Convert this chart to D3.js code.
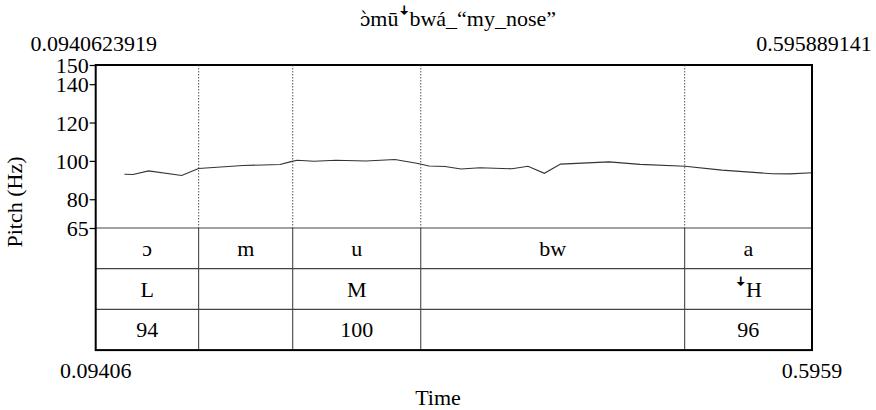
<!DOCTYPE html>
<html>
<head>
<meta charset="utf-8">
<script src="https://cdn.jsdelivr.net/npm/d3@7"></script>
<style>
	body { margin: 0; background: #fff; }
	text { font-family: "Liberation Serif", "Times New Roman", serif; fill: #000; }
</style>
</head>
<body>
<div id="chart"></div>
<script>

// pitch track (seconds, Hz)
var pitchTimes = [0.1142, 0.1202, 0.1311, 0.1543, 0.1661, 0.1973, 0.2232, 0.2309, 0.2351, 0.2470,
	0.2624, 0.2834, 0.3037, 0.3199, 0.3276, 0.3388, 0.3500, 0.3633, 0.3857, 0.3969,
	0.4084, 0.4197, 0.4537, 0.4754, 0.5069, 0.5328, 0.5679, 0.5805, 0.5959];
var pitchValues = [93.0, 92.9, 94.8, 92.4, 96.0, 97.6, 98.1, 99.6, 100.3, 99.8,
	100.3, 99.9, 100.7, 98.6, 97.3, 97.1, 95.8, 96.4, 95.9, 97.2,
	93.5, 98.3, 99.5, 98.2, 97.2, 95.2, 93.3, 93.2, 93.8];

// textgrid interval boundaries and tiers
var startTime = 0.0940623919,
	endTime = 0.595889141;
var boundaries = [0.1662, 0.2321, 0.3218, 0.5067];
var segmentTier = ["ɔ", "m", "u", "bw", "a"];
var toneTier = ["L", "", "M", "", "ꜜH"];
var hzTier = ["94", "", "100", "", "96"];
var yTicks = [65, 80, 100, 120, 140, 150];

var titleHead = "ɔ̀",
	titleRest = "mūꜜbwá_“my_nose”";

var drawChart = function() {

	var width = 876, height = 410;
	var left = 95.7, right = 812, plotTop = 65, pitchBottom = 228, rowH = 40.7;
	var fontSize = 22;

	var svg = d3.select("#chart").append("svg")
		.attr("width", width)
		.attr("height", height);

	var x = d3.scaleLinear().domain([startTime, endTime]).range([left, right]);
	var y = d3.scaleLinear().domain([65, 150]).range([pitchBottom, plotTop]);

	var tiers = [segmentTier, toneTier, hzTier];
	var frameBottom = pitchBottom + rowH * tiers.length;

	// dotted boundary lines over the pitch area
	svg.selectAll("line.bnd-dot")
		.data(boundaries)
		.enter().append("line")
		.attr("x1", function(d) { return x(d); })
		.attr("x2", function(d) { return x(d); })
		.attr("y1", plotTop)
		.attr("y2", pitchBottom)
		.attr("stroke", "#555")
		.attr("stroke-width", 1)
		.attr("stroke-dasharray", "1.5,1.5");

	// solid boundary lines in the tiers
	svg.selectAll("line.bnd")
		.data(boundaries)
		.enter().append("line")
		.attr("x1", function(d) { return x(d); })
		.attr("x2", function(d) { return x(d); })
		.attr("y1", pitchBottom)
		.attr("y2", frameBottom)
		.attr("stroke", "#333")
		.attr("stroke-width", 1);

	// tier separators
	svg.selectAll("line.sep")
		.data(d3.range(tiers.length))
		.enter().append("line")
		.attr("x1", left)
		.attr("x2", right)
		.attr("y1", function(i) { return pitchBottom + i * rowH; })
		.attr("y2", function(i) { return pitchBottom + i * rowH; })
		.attr("stroke", "#444")
		.attr("stroke-width", 1.2);

	// pitch curve
	var line = d3.line()
		.x(function(d, i) { return x(pitchTimes[i]); })
		.y(function(d) { return y(d); });

	svg.append("path")
		.datum(pitchValues)
		.attr("d", line)
		.attr("fill", "none")
		.attr("stroke", "#333")
		.attr("stroke-width", 1.1);

	// tier labels
	var edges = [startTime].concat(boundaries, [endTime]);
	tiers.forEach(function(tier, t) {
		svg.selectAll("text.tier" + t)
			.data(tier)
			.enter().append("text")
			.attr("x", function(d, i) { return (x(edges[i]) + x(edges[i + 1])) / 2; })
			.attr("y", pitchBottom + t * rowH + rowH / 2 + 7.5)
			.attr("text-anchor", "middle")
			.attr("font-size", fontSize)
			.text(function(d) { return d; });
	});

	// frame
	svg.append("rect")
		.attr("x", left)
		.attr("y", plotTop)
		.attr("width", right - left)
		.attr("height", frameBottom - plotTop)
		.attr("fill", "none")
		.attr("stroke", "#000")
		.attr("stroke-width", 2);

	// y axis
	var yAxis = d3.axisLeft(y).tickValues(yTicks).tickSize(6).tickPadding(1);
	var yG = svg.append("g")
		.attr("transform", "translate(" + left + ",0)")
		.call(yAxis);
	yG.select(".domain").remove();
	yG.selectAll(".tick line").attr("stroke", "#000").attr("stroke-width", 1.2);
	yG.selectAll(".tick text")
		.attr("font-size", fontSize)
		.attr("font-family", "Liberation Serif")
		.attr("fill", "#000")
		.attr("dy", "0.35em");

	// axis titles and time labels
	svg.append("text")
		.attr("transform", "translate(22,202) rotate(-90)")
		.attr("text-anchor", "middle")
		.attr("font-size", fontSize)
		.text("Pitch (Hz)");

	var titleText = svg.append("text")
		.attr("x", (left + right) / 2 + 4)
		.attr("y", 26)
		.attr("text-anchor", "middle")
		.attr("font-size", fontSize);
	titleText.append("tspan")
		.attr("font-family", "DejaVu Serif")
		.attr("font-size", 19)
		.text(titleHead);
	titleText.append("tspan").text(titleRest);

	svg.append("text")
		.attr("x", left - 2)
		.attr("y", 51)
		.attr("text-anchor", "middle")
		.attr("font-size", fontSize)
		.text(String(startTime));

	svg.append("text")
		.attr("x", right + 2)
		.attr("y", 51)
		.attr("text-anchor", "middle")
		.attr("font-size", fontSize)
		.text(String(endTime));

	svg.append("text")
		.attr("x", left)
		.attr("y", 378)
		.attr("text-anchor", "middle")
		.attr("font-size", fontSize)
		.text(startTime.toFixed(5));

	svg.append("text")
		.attr("x", right)
		.attr("y", 378)
		.attr("text-anchor", "middle")
		.attr("font-size", fontSize)
		.text(endTime.toFixed(4));

	svg.append("text")
		.attr("x", 438)
		.attr("y", 405)
		.attr("text-anchor", "middle")
		.attr("font-size", fontSize)
		.text("Time");
}

drawChart();

</script>
</body>
</html>
